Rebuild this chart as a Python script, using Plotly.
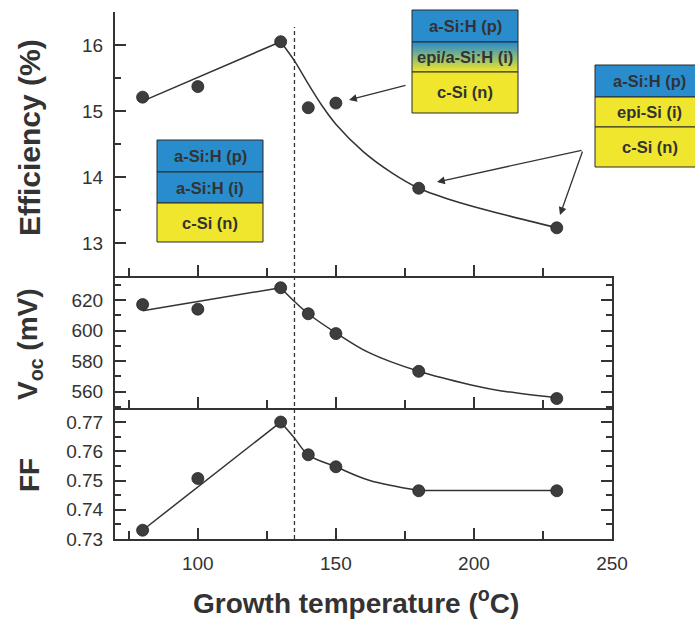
import plotly.graph_objects as go
from plotly.subplots import make_subplots

# ---------------- data ----------------
temps = [80, 100, 130, 140, 150, 180, 230]
efficiency = [15.21, 15.37, 16.05, 15.05, 15.12, 13.83, 13.23]
voc = [617.0, 614.0, 628.0, 611.0, 598.0, 573.3, 555.5]
ff = [0.733, 0.7507, 0.770, 0.7588, 0.7547, 0.7465, 0.7465]

# guide-to-the-eye lines
eff_line1_x = [80, 130]
eff_line1_y = [15.15, 16.05]
eff_line2_x = [130, 135, 140, 145, 150, 160, 170, 180, 195, 210, 230]
eff_line2_y = [16.05, 15.76, 15.41, 15.08, 14.80, 14.38, 14.07, 13.83, 13.61, 13.44, 13.23]

voc_line1_x = [80, 130]
voc_line1_y = [613.0, 628.0]
voc_line2_x = [130, 135, 140, 150, 162, 180, 199, 210, 230]
voc_line2_y = [628.0, 619.0, 611.0, 598.5, 585.5, 573.3, 564.4, 560.5, 556.0]

ff_line1_x = [80, 130]
ff_line1_y = [0.733, 0.770]
ff_line2_x = [130, 135, 140, 150, 162, 180]
ff_line2_y = [0.770, 0.7645, 0.7588, 0.7547, 0.7501, 0.7466]
ff_line3_x = [180, 230]
ff_line3_y = [0.7466, 0.7466]

boundary_temp = 135

box_left = ["a-Si:H (p)", "a-Si:H (i)", "c-Si (n)"]
box_mid = ["a-Si:H (p)", "epi/a-Si:H (i)", "c-Si (n)"]
box_right = ["a-Si:H (p)", "epi-Si (i)", "c-Si (n)"]

x_ticks = [100, 150, 200, 250]

# ---------------- style ----------------
FONT = "Liberation Sans, Arial, sans-serif"
DARK = "#333333"
MARK = "#3d3d3d"
BLUE = (40, 140, 205)
YELLOW = (240, 230, 45)

# plot area in pixels
L, R, T, B = 115, 612, 12, 539
W, H = R - L, B - T


def px(xp):
    return (xp - L) / W


def py(yp):
    return (B - yp) / H


fig = make_subplots(rows=3, cols=1, shared_xaxes=True, vertical_spacing=0)

line_sets = [
    (efficiency, [(eff_line1_x, eff_line1_y, "linear"), (eff_line2_x, eff_line2_y, "spline")]),
    (voc, [(voc_line1_x, voc_line1_y, "linear"), (voc_line2_x, voc_line2_y, "spline")]),
    (ff, [(ff_line1_x, ff_line1_y, "linear"), (ff_line2_x, ff_line2_y, "spline"),
          (ff_line3_x, ff_line3_y, "linear")]),
]
for row, (yv, segs) in enumerate(line_sets, start=1):
    for sx, sy, shp in segs:
        fig.add_trace(go.Scatter(x=sx, y=sy, mode="lines",
                                 line=dict(color=DARK, width=1.5, shape=shp,
                                           **({"smoothing": 1.0} if shp == "spline" else {})),
                                 showlegend=False, hoverinfo="skip"), row=row, col=1)
    fig.add_trace(go.Scatter(x=temps, y=yv, mode="markers",
                             marker=dict(color=MARK, size=12,
                                         line=dict(color="#222222", width=0.8)),
                             showlegend=False), row=row, col=1)

# domains matching the reference panel heights
doms = [[py(276), 1.0], [py(408), py(276)], [0.0, py(408)]]
yranges = [[12.5, 16.5], [549.3, 635.7], [0.73, 0.7748]]
ydticks = [1, 20, 0.01]
yminor = [0.5, 10, 0.005]
yfmt = ["d", "d", ".2f"]

tickfont = dict(family=FONT, size=19, color=DARK)

for i in range(3):
    yname = "yaxis" if i == 0 else f"yaxis{i+1}"
    xname = "xaxis" if i == 0 else f"xaxis{i+1}"
    fig.layout[yname].update(
        domain=doms[i], range=yranges[i], dtick=ydticks[i], tick0=0,
        tickformat=yfmt[i], showgrid=False, zeroline=False,
        showline=True, linecolor=DARK, linewidth=2,
        ticks="inside", ticklen=11, tickwidth=1.5, tickcolor=DARK,
        mirror=("ticks" if i > 0 else False),
        minor=dict(ticks="inside", ticklen=6, tickwidth=1.5, tickcolor=DARK,
                   dtick=yminor[i], tick0=0, showgrid=False),
        tickfont=tickfont, ticklabelstandoff=6,
    )
    fig.layout[xname].update(
        range=[70, 250], tickvals=x_ticks, showgrid=False, zeroline=False,
        showline=True, linecolor=DARK, linewidth=2,
        ticks="inside", ticklen=11, tickwidth=1.5, tickcolor=DARK,
        minor=dict(ticks="inside", ticklen=8, tickwidth=1.5, tickcolor=DARK,
                   dtick=25, tick0=0, showgrid=False),
        showticklabels=(i == 2), tickfont=tickfont, ticklabelstandoff=6,
    )

shapes = []
# vertical dashed boundary line across all panels
shapes.append(dict(type="line", xref="x3", yref="paper",
                   x0=boundary_temp, x1=boundary_temp, y0=0, y1=py(27),
                   line=dict(color=DARK, width=1.3, dash="4px,3px")))


def rgb(c):
    return f"rgb({int(c[0])},{int(c[1])},{int(c[2])})"


annotations = []
BOXFONT = dict(family=FONT, size=16.5, color=DARK)


def label(xc, yc, text):
    annotations.append(dict(xref="paper", yref="paper", x=px(xc), y=py(yc),
                            xanchor="center", yanchor="middle",
                            text=f"<b>{text}</b>", showarrow=False, font=BOXFONT))


def layer(x0, x1, y0, y1, color, text):
    shapes.append(dict(type="rect", xref="paper", yref="paper",
                       x0=px(x0), x1=px(x1), y0=py(y1), y1=py(y0),
                       fillcolor=color, line=dict(color="#2a2a2a", width=1), layer="above"))
    if text:
        label((x0 + x1) / 2, (y0 + y1) / 2, text)


# left box
layer(157, 263, 140, 172, rgb(BLUE), box_left[0])
layer(157, 263, 172, 203, rgb(BLUE), box_left[1])
layer(157, 263, 203, 242, rgb(YELLOW), box_left[2])

# middle box (with blue->yellow gradient layer)
layer(412, 518, 10, 42, rgb(BLUE), box_mid[0])
n = 30
g0, g1 = 42, 72
for k in range(n):
    t = k / (n - 1)
    c = tuple(BLUE[j] + (YELLOW[j] - BLUE[j]) * t for j in range(3))
    ya = g0 + (g1 - g0) * k / n
    yb = g0 + (g1 - g0) * (k + 1) / n + 0.6
    shapes.append(dict(type="rect", xref="paper", yref="paper",
                       x0=px(412), x1=px(518), y0=py(min(yb, g1)), y1=py(ya),
                       fillcolor=rgb(c), line=dict(width=0), layer="above"))
shapes.append(dict(type="rect", xref="paper", yref="paper",
                   x0=px(412), x1=px(518), y0=py(g1), y1=py(g0),
                   fillcolor="rgba(0,0,0,0)", line=dict(color="#2a2a2a", width=1), layer="above"))
label(465, 57, box_mid[1])
layer(412, 518, 72, 113, rgb(YELLOW), box_mid[2])

# right box (cut by the figure edge)
layer(595, 704, 65, 97, rgb(BLUE), box_right[0])
layer(595, 704, 97, 127, rgb(YELLOW), box_right[1])
layer(595, 704, 127, 167, rgb(YELLOW), box_right[2])

# arrows (head position, tail offset in pixels)
for (hx, hy, tx, ty) in [(349, 100, 407, 85), (437, 182, 583, 150), (560, 215, 583, 150)]:
    annotations.append(dict(xref="paper", yref="paper", x=px(hx), y=py(hy),
                            ax=tx - hx, ay=ty - hy, text="", showarrow=True,
                            arrowhead=2, arrowsize=1.2, arrowwidth=1.3,
                            arrowcolor=DARK, standoff=0))

# axis titles
for (xc, yc, text, ang, sz) in [(29, 138, "Efficiency (%)", -90, 30),
                                (29, 344, "V<sub>oc</sub> (mV)", -90, 28),
                                (29, 475, "FF", -90, 28),
                                (356, 601, "Growth temperature (<sup>o</sup>C)", 0, 28)]:
    annotations.append(dict(xref="paper", yref="paper", x=px(xc), y=py(yc),
                            xanchor="center", yanchor="middle",
                            text=f"<b>{text}</b>", textangle=ang, showarrow=False,
                            font=dict(family=FONT, size=sz, color=DARK)))

fig.update_layout(
    width=695, height=619,
    margin=dict(l=L, r=695 - R, t=T, b=619 - B),
    paper_bgcolor="white", plot_bgcolor="white",
    shapes=shapes, annotations=annotations,
    showlegend=False,
)

fig.write_html("out.html")
